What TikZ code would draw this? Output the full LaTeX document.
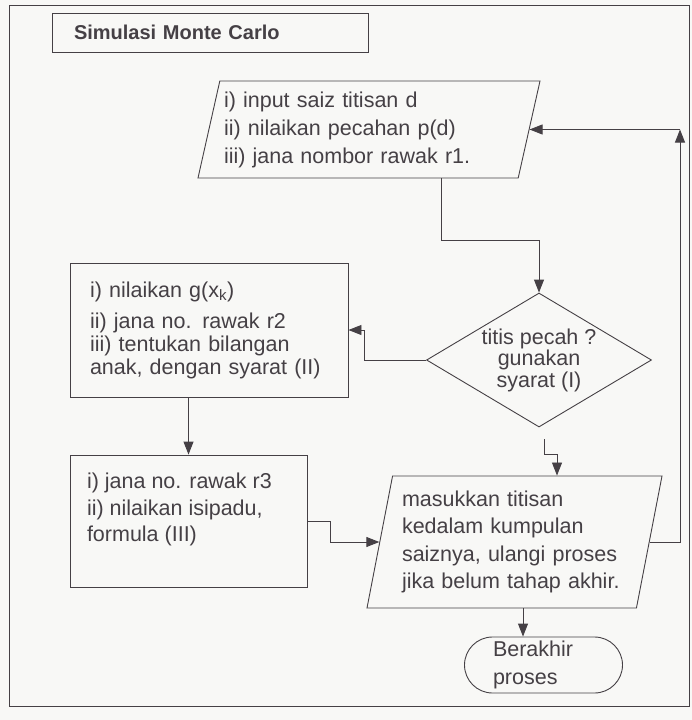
\documentclass[tikz,border=0pt]{standalone}
\usepackage{fontspec}
\setmainfont{Liberation Sans}
\usetikzlibrary{shapes, arrows.meta, positioning}
\definecolor{ink}{HTML}{454045}
\definecolor{paper}{HTML}{F8F8F6}

\begin{document}
\begin{tikzpicture}[x=1pt, y=-1pt, line width=0.9pt, color=ink,
  every node/.style={font=\fontsize{21.5}{24}\selectfont, inner sep=0pt},
  box/.style={draw, rectangle, align=left},
  io/.style={draw, trapezium, trapezium stretches body, trapezium left angle=74,
    trapezium right angle=106, align=left},
  arr/.style={-{Triangle[length=13pt, width=10pt]}}]
\fill[paper] (0,0) rectangle (692,720);
\draw[line width=0.7pt] (9,5) rectangle (689,706);

\path (210,32.5) node[box, minimum width=316pt, minimum height=39pt, text width=272pt,
  font=\bfseries\fontsize{20}{24}\selectfont] (title) {Simulasi Monte Carlo};
\path (369,129.5) node[io, minimum width=342pt, minimum height=97pt, text width=290pt,
  font=\fontsize{21.5}{28}\selectfont] (para-in)
  {i) input saiz titisan d\\ ii) nilaikan pecahan p(d)\\ iii) jana nombor rawak r1.};
\path (539,360) node[draw, diamond, aspect=1.68, minimum width=225pt, minimum height=134pt,
  align=center, font=\fontsize{21.5}{21.5}\selectfont] (dec)
  {titis pecah ?\\ gunakan\\ syarat (I)};
\path (209,330) node[box, minimum width=278pt, minimum height=134pt, text width=238pt,
  font=\fontsize{21.5}{23}\selectfont] (box-g)
  {i) nilaikan g(x\textsubscript{k})\\[8pt] ii) jana no. rawak r2\\ iii) tentukan bilangan\\ anak, dengan syarat (II)};
\path (188.5,521) node[box, inner xsep=17pt, inner ysep=18pt] (box-v)
  {\parbox[c][96pt][t]{203pt}{\fontsize{21.5}{26.5}\selectfont i) jana no. rawak r3\\ ii) nilaikan isipadu,\\ formula (III)}};
\path (514.5,542) node[io, trapezium left angle=76, trapezium right angle=104,
  minimum width=295pt, minimum height=132pt, text width=225pt,
  font=\fontsize{21.5}{27.5}\selectfont] (para-out)
  {masukkan titisan\\ kedalam kumpulan\\ saiznya, ulangi proses\\ jika belum tahap akhir.};
\path (543.5,665) node[draw, rounded rectangle, minimum width=158pt, minimum height=56pt,
  text width=101pt, align=left, font=\fontsize{21.5}{27.5}\selectfont] (stop) {Berakhir\\ proses};

\draw[arr] (441,0 |- para-in.south) -- ++(0,62) -| (dec.north);
\draw[arr] (dec.west) -- ++(-62,0) |- (box-g.east);
\draw[arr] (box-v.north |- box-g.south) -- (box-v.north);
\draw[arr] (box-v.east) -- ++(23,0) |- (para-out.left side);
\coordinate (dec-out) at ([shift={(5,12)}]dec.south);
\draw[arr] (dec-out) -- ++(0,15) -| (557,0 |- para-out.north);
\coordinate (loop-top) at (680,0 |- para-in.right side);
\draw[arr] (para-out.right side) -| (loop-top);
\draw[arr] (loop-top) -- (para-in.right side);
\draw[arr] (523,0 |- para-out.south) -- (523,0 |- stop.north);
\end{tikzpicture}
\end{document}
